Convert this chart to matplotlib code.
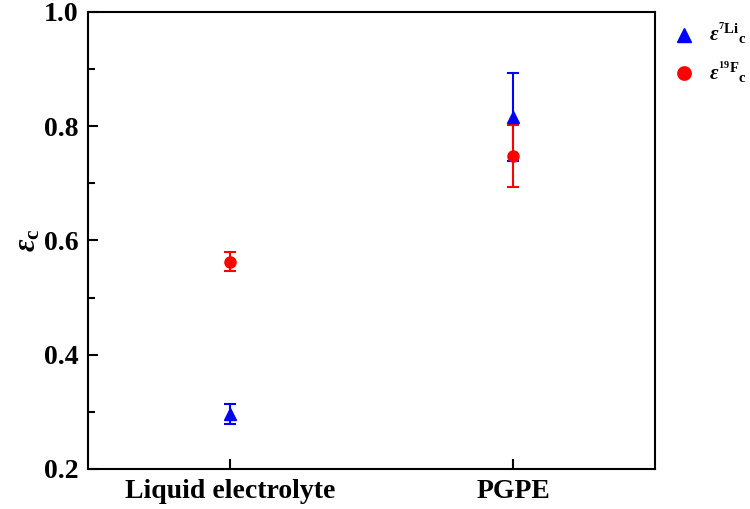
import matplotlib
matplotlib.use("Agg")
import matplotlib.pyplot as plt
from matplotlib.ticker import MultipleLocator

plt.rcParams['font.family'] = ['Liberation Serif', 'DejaVu Serif']
plt.rcParams['font.weight'] = 'bold'
plt.rcParams['mathtext.fontset'] = 'custom'
plt.rcParams['mathtext.rm'] = 'Liberation Serif:bold'
plt.rcParams['mathtext.it'] = 'Liberation Serif:italic:bold'
plt.rcParams['mathtext.bf'] = 'Liberation Serif:bold'

# data
categories = ['Liquid electrolyte', 'PGPE']
li_values = [0.296, 0.817]
li_errors = [0.017, 0.077]
f_values = [0.563, 0.748]
f_errors = [0.016, 0.055]

x = list(range(len(categories)))

fig = plt.figure(figsize=(7.5, 5.09), dpi=100)
ax = fig.add_axes([88/750, 1 - 469/509, (655-88)/750, (469-12)/509])

ax.errorbar(x, li_values, yerr=li_errors, fmt='^', color='#0000ff', ecolor='#0000ff',
            markersize=8, capsize=4.5, elinewidth=1.5, capthick=1.5,
            label=r'$\varepsilon^{^7\mathrm{Li}}{}_{\mathrm{c}}$')
ax.errorbar(x, f_values, yerr=f_errors, fmt='o', color='#ff0000', ecolor='#ff0000',
            markersize=8, capsize=4.5, elinewidth=1.5, capthick=1.5,
            label=r'$\varepsilon^{^{19}\mathrm{F}}{}_{\mathrm{c}}$')

ax.set_xlim(-0.5, 1.5)
ax.set_ylim(0.2, 1.0)
ax.set_xticks(x)
ax.set_xticklabels(categories, fontsize=20, fontweight='bold')
ax.yaxis.set_major_locator(MultipleLocator(0.2))
ax.yaxis.set_minor_locator(MultipleLocator(0.1))
ax.yaxis.set_major_formatter(matplotlib.ticker.FormatStrFormatter('%.1f'))
for lab in ax.get_yticklabels():
    lab.set_fontsize(20)
    lab.set_fontweight('bold')

ax.tick_params(axis='both', which='major', direction='in', length=7, width=1.5, pad=7)
ax.tick_params(axis='y', which='minor', direction='in', length=5, width=1.5)
ax.tick_params(top=False, right=False)
for s in ax.spines.values():
    s.set_linewidth(1.5)

ax.set_ylabel(r'$\varepsilon_{\mathrm{c}}$', fontsize=22, labelpad=1)

handles, labels = ax.get_legend_handles_labels()
handles = [h[0] for h in handles]
fig.legend(handles, labels, loc='upper left', bbox_to_anchor=(0.876, 0.995),
           frameon=False, fontsize=15, handlelength=0.8, handletextpad=0.8,
           labelspacing=0.6, markerscale=1.2)

fig.savefig('out.png', dpi=100)
